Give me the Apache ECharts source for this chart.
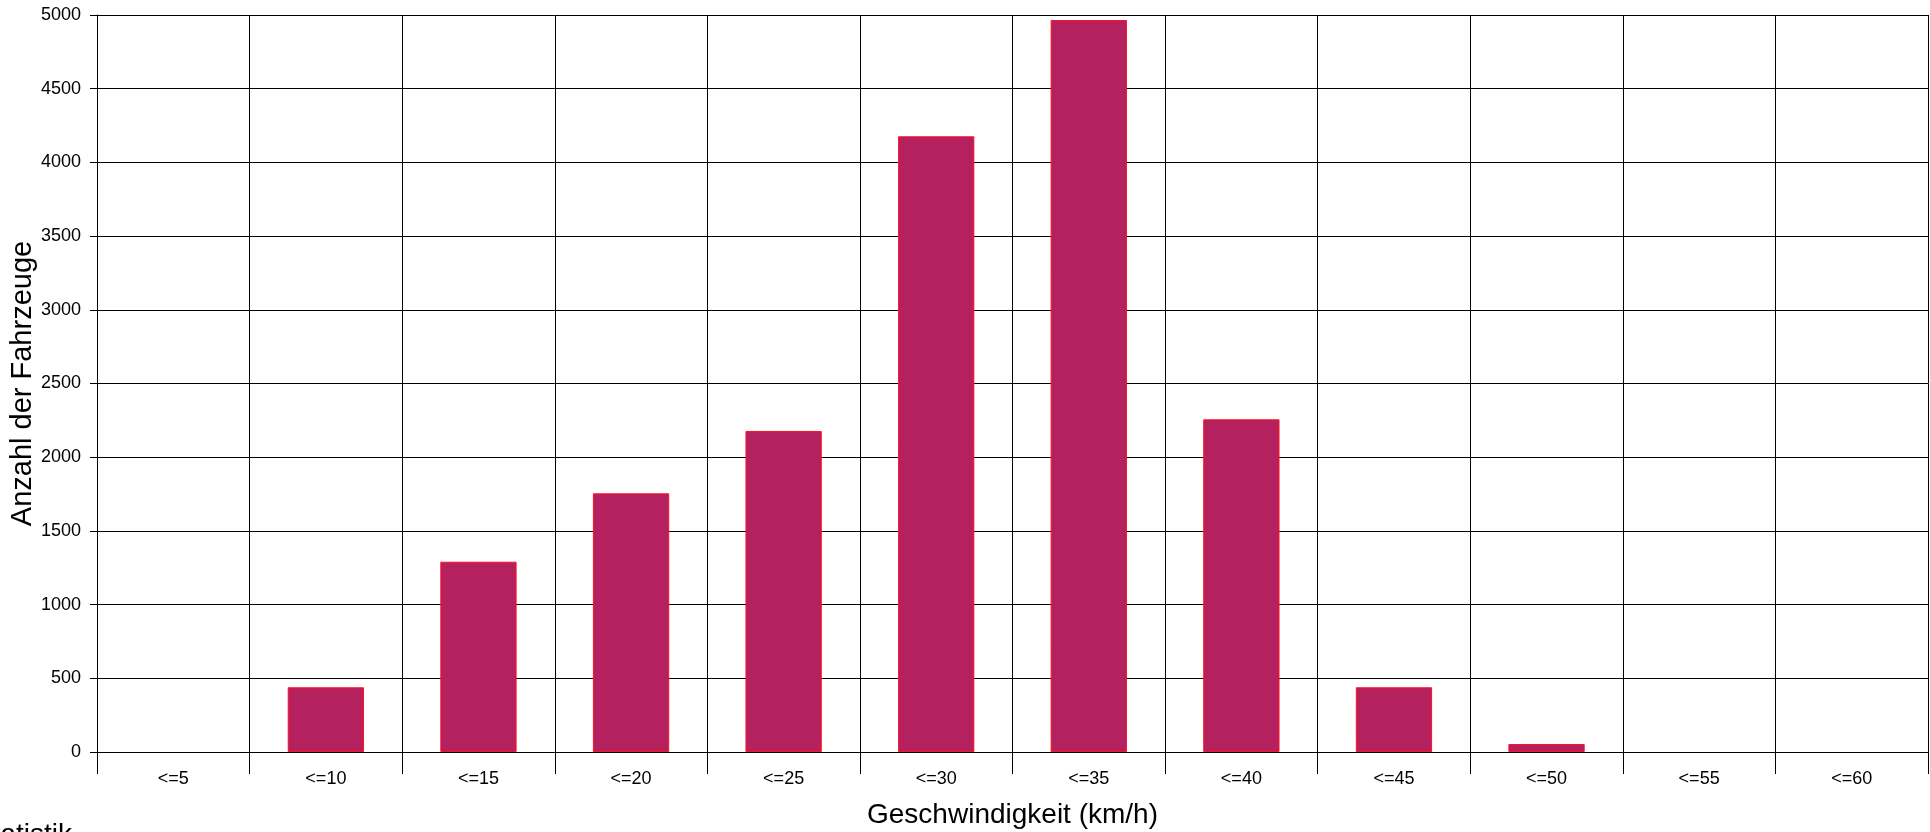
<!DOCTYPE html>
<html>
<head>
<meta charset="utf-8">
<script src="https://cdn.jsdelivr.net/npm/echarts@6/dist/echarts.min.js"></script>
<style>
html,body{margin:0;padding:0;background:#fff;}
#chart{width:1930px;height:832px;}
</style>
</head>
<body>
<div id="chart"></div>
<script>
const categories = ['<=5','<=10','<=15','<=20','<=25','<=30','<=35','<=40','<=45','<=50','<=55','<=60'];
const counts = [0, 439, 1291, 1755, 2178, 4177, 4966, 2257, 439, 54, 0, 0];
const yTitle = 'Anzahl der Fahrzeuge';
const xTitle = 'Geschwindigkeit (km/h)';
const footText = 'Statistik';

const FONT = 'Liberation Sans, Arial, sans-serif';
const barData = counts.map(v => v === 0
  ? {value: v, itemStyle: {borderWidth: 0, opacity: 0}}
  : {value: v});

const chart = echarts.init(document.getElementById('chart'), null, {renderer: 'canvas'});
chart.setOption({
  animation: false,
  backgroundColor: '#fff',
  grid: {left: 97, right: 2, top: 15, bottom: 80, containLabel: false, outerBoundsMode: 'none'},
  xAxis: {
    type: 'category',
    data: categories,
    boundaryGap: true,
    name: xTitle,
    nameLocation: 'middle',
    nameGap: 49,
    nameMoveOverlap: false,
    nameTextStyle: {fontFamily: FONT, fontSize: 28, color: '#000'},
    axisLine: {lineStyle: {color: '#000', width: 1}},
    axisTick: {show: true, length: 22, alignWithLabel: false, lineStyle: {color: '#000'}},
    axisLabel: {fontFamily: FONT, fontSize: 18, color: '#000', margin: 18, interval: 0},
    splitLine: {show: true, lineStyle: {color: '#000', width: 1}}
  },
  yAxis: {
    type: 'value',
    min: 0, max: 5000, interval: 500,
    name: yTitle,
    nameLocation: 'middle',
    nameGap: 60,
    nameMoveOverlap: false,
    nameTextStyle: {fontFamily: FONT, fontSize: 29, color: '#000'},
    axisLine: {show: true, lineStyle: {color: '#000', width: 1}},
    axisTick: {show: true, length: 7, lineStyle: {color: '#000'}},
    axisLabel: {fontFamily: FONT, fontSize: 18, color: '#000', margin: 16, formatter: v => String(v)},
    splitLine: {show: true, lineStyle: {color: '#000', width: 1}}
  },
  series: [{
    type: 'bar',
    data: barData,
    barWidth: '50%',
    itemStyle: {color: '#B5205E', borderColor: '#FF1020', borderWidth: 1}
  }],
  graphic: [{
    type: 'text',
    left: -26,
    top: 821,
    style: {text: footText, font: '28px Liberation Sans, Arial, sans-serif', fill: '#000'}
  }]
});
</script>
</body>
</html>
